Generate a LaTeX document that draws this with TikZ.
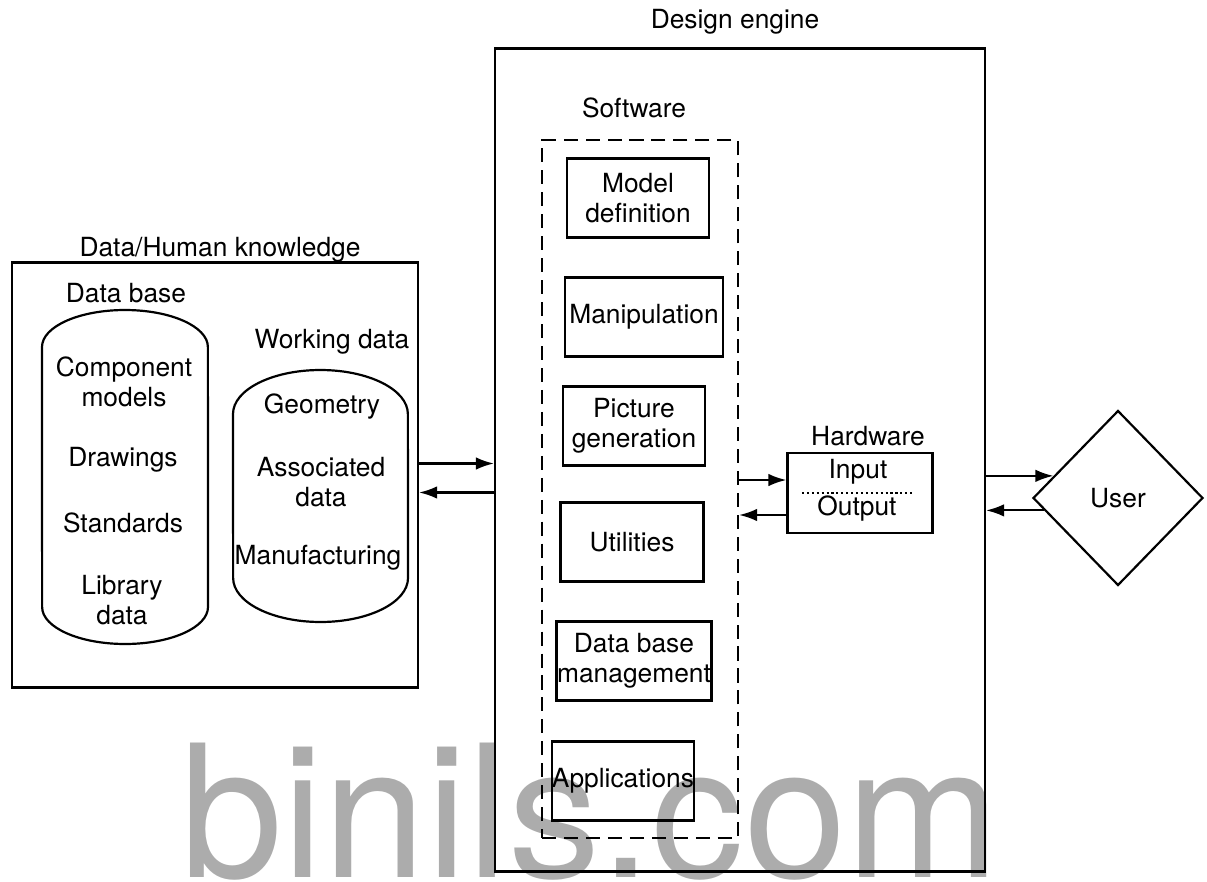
\documentclass[tikz,border=0pt]{standalone}
\usepackage{fontspec}
\setmainfont{TeX Gyre Heros}
\usetikzlibrary{shapes.geometric,arrows.meta,calc}

\begin{document}
\begin{tikzpicture}[x=0.02cm, y=-0.02cm,
    every node/.style={font=\fontsize{15}{17}\selectfont, align=center},
    frame/.style={draw, line width=1.25pt, inner sep=0pt},
    part/.style={frame, minimum height=1.58cm},
    arr/.style={line width=1.2pt, -{Latex[length=3.6mm,width=2.5mm]}}]
    \useasboundingbox (0,0) rectangle (1207,882);

    % watermark behind everything
    \node[anchor=base west, inner sep=0pt, text=gray!65,
          font=\fontsize{105}{110}\selectfont] (wm) at (180,877) {binils.com};

    % data / human knowledge
    \node[frame, minimum width=8.12cm, minimum height=8.5cm] (dh) at (215,475) {};
    \node (dhlabel) at (220,250) {Data/Human knowledge};
    \node (dblabel) at (126,293) {Data base};
    \node (wdlabel) at (332,342) {Working data};
    \foreach \xa/\xb/\ya/\yb/\ry in {42/208/347/607/0.74, 233/408/414/578/0.88}{
        \pgfmathsetmacro\rx{(\xb-\xa)*0.01}
        \draw[line width=1.25pt] (\xa,\ya)
            arc[start angle=180, end angle=0, x radius=\rx cm, y radius=\ry cm]
            -- (\xb,\yb)
            arc[start angle=0, end angle=-180, x radius=\rx cm, y radius=\ry cm]
            -- cycle;
    }
    \node (cm) at (124,382) {Component\\models};
    \node (dr) at (123,460) {Drawings};
    \node (st) at (123,523) {Standards};
    \node (ld) at (122,600) {Library\\data};
    \node (ge) at (322,407) {Geometry};
    \node (ad) at (321,482) {Associated\\data};
    \node (mf) at (318,558) {Manufacturing};

    % design engine
    \node[frame, minimum width=9.8cm, minimum height=16.46cm] (de) at (740,460) {};
    \node (delabel) at (735,22) {Design engine};
    \node (swlabel) at (634,108) {Software};
    \node[frame, dashed, dash pattern=on 8pt off 4.5pt, minimum width=3.92cm,
          minimum height=13.96cm] (sw) at (640,489) {};
    \foreach \name/\x/\y/\w/\txt in {md/638/198/2.84/{Model\\definition},
        mp/644/317/3.16/Manipulation, pg/634/426/2.84/{Picture\\generation},
        ut/632/542/2.86/Utilities, dbm/634/661/3.1/{Data base\\management},
        ap/623/781/2.8/Applications}{
        \node[part, minimum width=\w cm] (\name) at (\x,\y) {\txt};
    }

    % hardware
    \node (hwlabel) at (868,436) {Hardware};
    \node[frame, minimum width=2.9cm, minimum height=1.6cm] (hw) at (860,493) {};
    \node (in) at (858,472) {Input};
    \node (out) at (857,509) {Output};
    \draw[line width=1.1pt, dash pattern=on 1.2pt off 1.6pt]
        ([xshift=0.31cm]hw.west) -- ([xshift=-0.39cm]hw.east);

    % user
    \node[frame, diamond, minimum width=3.4cm, minimum height=3.5cm] (user) at (1118,498) {User};
    \coordinate (u1) at ($(user.west)!0.25!(user.north)$);
    \coordinate (u2) at ($(user.west)!0.14!(user.south)$);

    % connections
    \draw[arr] ([yshift=0.23cm]dh.east) -- ([yshift=0.23cm]dh.east -| de.west);
    \draw[arr] ([yshift=-0.35cm]dh.east -| de.west) -- ([yshift=-0.35cm]dh.east);
    \draw[arr] ([yshift=0.26cm]hw.west -| sw.east) -- ([yshift=0.26cm]hw.west);
    \draw[arr] ([yshift=-0.44cm]hw.west) -- ([yshift=-0.44cm]hw.west -| sw.east);
    \draw[arr] (de.east |- u1) -- (u1);
    \draw[arr] (u2) -- (de.east |- u2);
\end{tikzpicture}
\end{document}
